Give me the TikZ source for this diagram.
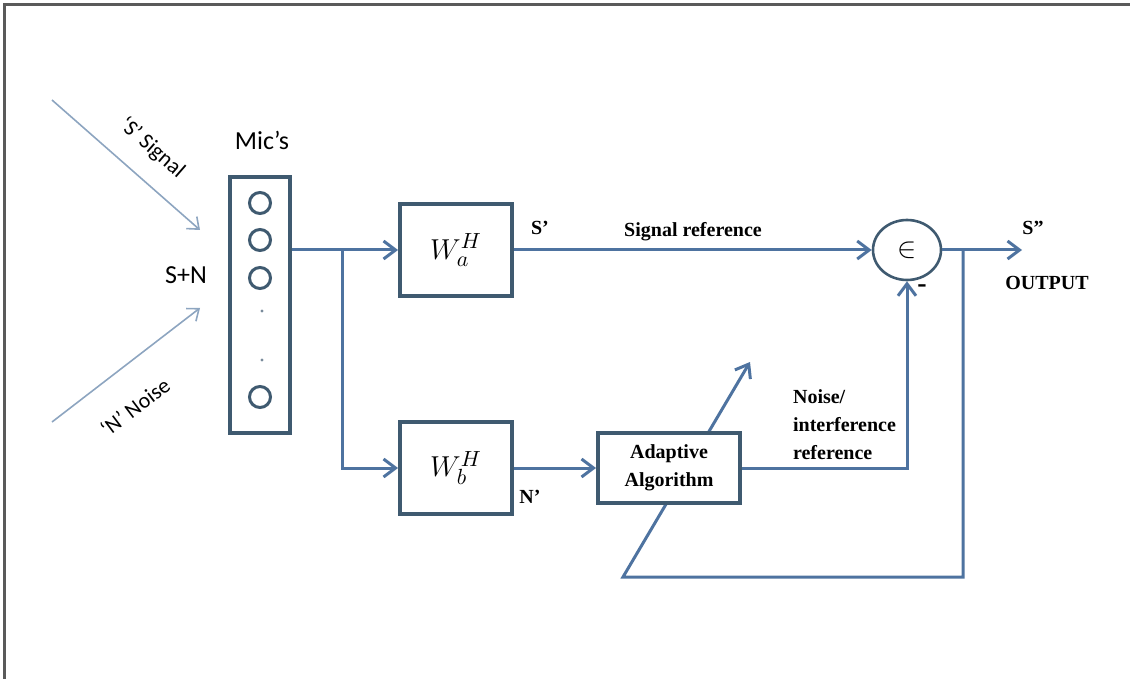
\documentclass[tikz,border=0pt]{standalone}
\usepackage{fontspec}
\setmainfont{Liberation Serif}
\newfontfamily\calibri{Carlito}
\usetikzlibrary{positioning,arrows.meta,shapes.geometric}
\definecolor{Steel}{HTML}{4E73A0}
\definecolor{Edge}{HTML}{3F5A70}
\definecolor{Ray}{HTML}{8DA5C0}
\definecolor{Frame}{HTML}{5A5A5A}

\begin{document}
\begin{tikzpicture}[x=0.5pt, y=-0.5pt,
    every node/.style={font=\rmfamily\bfseries\fontsize{10}{14}\selectfont},
    box/.style={draw=Edge, line width=2pt, fill=white, minimum width=56pt, minimum height=46pt, inner sep=0pt},
    mic/.style={draw=Edge, line width=1.5pt, circle, minimum size=10.5pt, inner sep=0pt},
    arrow/.style={-{Straight Barb[length=6pt,width=9pt]}, line width=1.5pt, draw=Steel},
    ray/.style={-{Straight Barb[length=5pt,width=8pt]}, line width=0.8pt, draw=Ray},
    lbl/.style={font=\calibri\mdseries\fontsize{13}{15}\selectfont}
  ]
  \useasboundingbox (0,0) rectangle (1130,679);
  \draw[Frame, line width=1.5pt] (4,679) |- (1130,5);

  % free ends
  \coordinate (s0) at (52,100);
  \coordinate (s1) at (200,230);
  \coordinate (n0) at (52,422);
  \coordinate (n1) at (200,308);
  \coordinate (split) at (342,250);
  \coordinate (tap) at (963,250);
  \coordinate (fbc) at (623,577);
  \coordinate (tune) at (750,362);
  \coordinate (out) at (1022,250);

  % feedback goes under the adaptive box
  \draw[arrow] (tap) |- (fbc) -- (tune);

  \node[draw=Edge, line width=2pt, minimum width=30pt, minimum height=128pt, inner sep=0pt] (mics) at (260,305) {};
  \foreach \y [count=\i] in {203,240,278,397}
    \node[mic] (m\i) at (260,\y) {};
  \fill[Edge!70] (262,311) circle (0.8pt) (262,360) circle (0.8pt);

  \node[box] (wa) at (456,250) {\fontsize{15}{17}\selectfont$W_a^H$};
  \node[box] (wb) at (456,468) {\fontsize{15}{17}\selectfont$W_b^H$};
  \node[box, minimum width=71pt, minimum height=35pt, align=center] (adapt) at (669,468) {Adaptive\\Algorithm};
  \node[ellipse, draw=Edge, line width=1.3pt, minimum width=34pt, minimum height=30pt, inner sep=0pt] (sum) at (907,250) {\fontsize{14}{16}\selectfont$\in$};

  \draw[ray] (s0) -- (s1);
  \draw[ray] (n0) -- (n1);
  \draw[arrow] (mics.east |- wa.west) -- (wa.west);
  \draw[arrow] (split) |- (wb.west);
  \draw[arrow] (wa.east) -- (sum.west);
  \draw[arrow] (wb.east) -- (adapt.west);
  \draw[arrow] (adapt.east) -| (sum.south);
  \draw[arrow] (sum.east) -- (out);

  % labels
  \node[lbl] (miclbl) at (262,140) {Mic’s};
  \node[lbl] (snlbl) at (186,275) {S+N};
  \node[lbl, font=\calibri\mdseries\fontsize{11}{13}\selectfont, rotate=-41] (siglbl) at (152,148) {‘S’ Signal};
  \node[lbl, font=\calibri\mdseries\fontsize{11}{13}\selectfont, rotate=37] (noiselbl) at (135,407) {‘N’ Noise};
  \node (sprime) at (540,228) {S'};
  \node (nprime) at (530,497) {N'};
  \node (sigref) at (693,232) {Signal reference};
  \node (sout) at (1033,228) {S''};
  \node (outlbl) at (1047,283) {OUTPUT};
  \node[anchor=west, align=left] (noiseref) at (786,425) {Noise/\\interference\\reference};
  \node (minus) at (922,289) {\fontsize{14}{16}\selectfont -};
\end{tikzpicture}
\end{document}
